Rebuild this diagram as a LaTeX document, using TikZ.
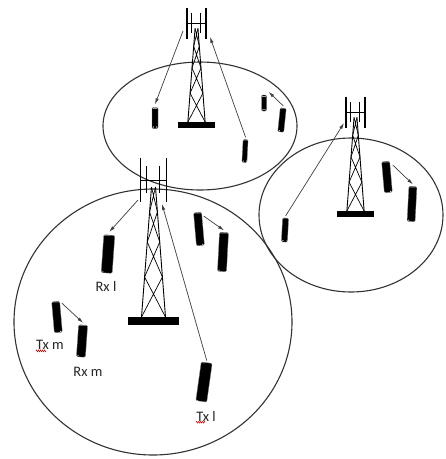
\documentclass[tikz,border=0pt]{standalone}
\usepackage{fontspec}
\setmainfont{Carlito}
\usetikzlibrary{arrows.meta,backgrounds,decorations.pathmorphing}

\tikzset{
  cellring/.style={draw=black!80, line width=1.1pt},
  link/.style={draw=black!75, line width=0.7pt, -{Latex[length=6pt,width=3.4pt]}},
  handset/.style 2 args={draw=black!50, line width=0.3pt, fill=black,
    rounded corners=1.2pt, inner sep=0pt, minimum width=#1pt, minimum height=#2pt,
    path picture={
      \fill[white] ([xshift=1.5pt,yshift=1.6pt]path picture bounding box.south west) circle (0.6pt);
      \fill[white] ([xshift=-1.5pt,yshift=1.6pt]path picture bounding box.south east) circle (0.6pt);
      \draw[gray!70, line width=0.4pt] ([xshift=0.7pt,yshift=-0.9pt]path picture bounding box.north west)
        -- ([xshift=-0.7pt,yshift=-0.9pt]path picture bounding box.north east);
    }},
  shade blob/.style={fill=black!22},
  lbl/.style={font=\fontsize{14.5}{16}\selectfont, text=black!85, inner sep=0pt},
  squiggle/.style={draw=red!85!black, line width=0.5pt, decorate,
    decoration={zigzag, segment length=2pt, amplitude=0.9pt}},
  tower/.pic={
    % base plate
    \fill (-25.5,0) rectangle (25.5,8);
    % legs
    \draw[line width=0.9pt] (-12,0) -- (-2,-130) (12,0) -- (2,-130);
    % cross bracing between levels
    \draw[line width=0.7pt]
      (-12,0) -- (8.92,-40)  (12,0) -- (-8.92,-40)
      (-8.92,-40) -- (6.23,-75)  (8.92,-40) -- (-6.23,-75)
      (-6.23,-75) -- (3.92,-105)  (6.23,-75) -- (-3.92,-105)
      (-3.92,-105) -- (2,-130)  (3.92,-105) -- (-2,-130);
    % antenna array
    \draw[line width=1.6pt] (-13,-159) -- (-13,-115) (13,-159) -- (13,-115);
    \draw[line width=1.2pt] (-7,-151) -- (-7,-124) (6,-151) -- (6,-124);
    \draw[line width=0.7pt] (-13,-137) -- (13,-137);
  }
}

\begin{document}
\begin{tikzpicture}[x=1pt, y=-1pt]
  \useasboundingbox[fill=white] (0,0) rectangle (446,459);

  % cells
  \draw[cellring] (200,126) ellipse [x radius=97, y radius=64];
  \draw[cellring] (351,215) ellipse [x radius=92, y radius=77];
  \draw[cellring] (153,322) ellipse [x radius=139, y radius=133];

  % base stations
  \pic[scale=0.72] at (196.5,122) {tower};
  \pic[scale=0.72] at (355.5,211) {tower};
  \pic at (153.5,317) {tower};

  % antenna link points
  \coordinate (antAl) at (183,31);
  \coordinate (antAr) at (210,37);
  \coordinate (antB)  at (344,123);
  \coordinate (antCl) at (138,200);
  \coordinate (antCr) at (162,204);

  % handsets, upper cell
  \node[handset={6}{21}] (pa) at (155,118) {};
  \node[handset={5}{23}, rotate=-3] (pb) at (245,151) {};
  \node[handset={5}{16}] (pc) at (264,103) {};
  \node[handset={6}{24}, rotate=-6] (pd) at (282,120) {};

  % handsets, right cell
  \node[handset={6}{24}, rotate=-3] (pe) at (285,230) {};
  \node[handset={8}{31}, rotate=5] (pf) at (387,177) {};
  \node[handset={8}{35}, rotate=-3] (pg) at (412,204) {};

  % handsets, large cell
  \node[handset={11}{38}, rotate=-4] (rxl) at (108,254) {};
  \node[handset={8}{33}, rotate=5] (ph) at (199,229) {};
  \node[handset={9}{39}, rotate=-3] (pi) at (223,252) {};
  \node[handset={8}{31}, rotate=5] (txm) at (57,317) {};
  \node[handset={9}{32}, rotate=-4] (rxm) at (82,341) {};
  \node[handset={11}{39}, rotate=-8] (txl) at (204,382) {};

  % soft shadows under the handsets
  \begin{scope}[on background layer]
    \foreach \p/\r in {pa/4, pb/4, pc/3, pd/4, pe/4, pf/6, pg/6, rxl/7, ph/6, pi/6, txm/6, rxm/6, txl/7}
      \fill[shade blob] ([xshift=-2pt,yshift=1pt]\p.south) ellipse [x radius=\r, y radius=2.6];
  \end{scope}

  % links
  \draw[link] (antAl) -- ([yshift=3pt]pa.north);
  \draw[link] ([yshift=2pt]pb.north) -- (antAr);
  \draw[link] ([yshift=2pt]pd.north) -- ([xshift=2pt,yshift=3pt]pc.north east);
  \draw[link] ([yshift=2pt]pe.north) -- (antB);
  \draw[link] ([xshift=3pt,yshift=-4pt]pf.north east) -- ([yshift=2pt]pg.north);
  \draw[link] (antCl) -- ([yshift=3pt]rxl.north);
  \draw[link] ([xshift=2pt,yshift=-4pt]ph.north east) -- ([yshift=2pt]pi.north);
  \draw[link] ([xshift=2pt,yshift=-2pt]txm.north east) -- ([yshift=2pt]rxm.north);
  \draw[link] ([yshift=2pt]txl.north) -- (antCr);

  % labels
  \node[lbl] (lrxl) at (106,286) {Rx l};
  \node[lbl] (ltxm) at (50,345) {Tx m};
  \node[lbl] (lrxm) at (88,372) {Rx m};
  \node[lbl] (ltxl) at (206,416) {Tx l};
  \draw[squiggle] ([yshift=-1pt]ltxm.south west) -- ++(10,0);
  \draw[squiggle] ([yshift=-1pt]ltxl.south west) -- ++(9,0);
\end{tikzpicture}
\end{document}
